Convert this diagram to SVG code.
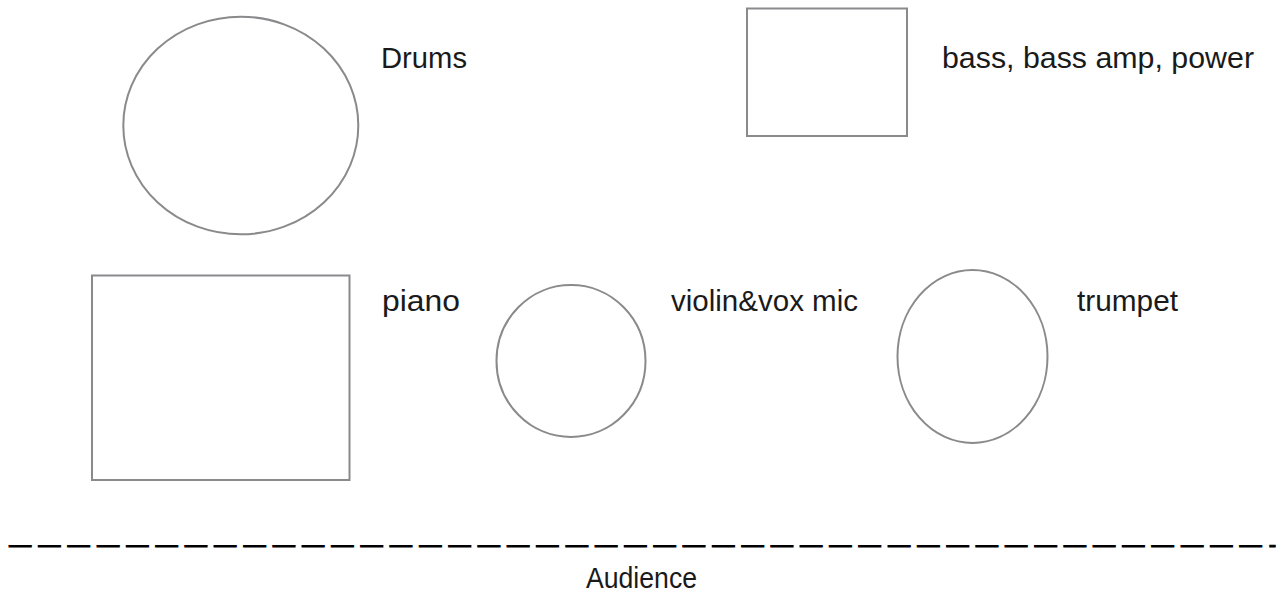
<svg xmlns="http://www.w3.org/2000/svg" width="1282" height="594" viewBox="0 0 1282 594">
  <style>
    .shape { fill: #ffffff; stroke: #8a8a8d; stroke-width: 2; }
    .label { font-family: "Liberation Sans", Arial, sans-serif; font-size: 29px; fill: #1a1a1a; }
    .rule { font-family: "Liberation Sans", Arial, sans-serif; font-size: 22.3px; fill: #000000; stroke: #000000; stroke-width: 1; letter-spacing: 7px; }
  </style>
  <rect width="1282" height="594" fill="#ffffff"/>
  <g id="drums">
    <ellipse class="shape" cx="240.8" cy="125.5" rx="117.5" ry="108.8"/>
    <text class="label" x="381" y="68" textLength="86" lengthAdjust="spacingAndGlyphs">Drums</text>
  </g>
  <g id="bass">
    <rect class="shape" x="747" y="8.5" width="160" height="127.5"/>
    <text class="label" x="942" y="68" textLength="312" lengthAdjust="spacingAndGlyphs">bass, bass amp, power</text>
  </g>
  <g id="piano">
    <rect class="shape" x="92" y="275.5" width="257.5" height="204.5"/>
    <text class="label" x="382" y="311" textLength="78" lengthAdjust="spacingAndGlyphs">piano</text>
  </g>
  <g id="violin">
    <ellipse class="shape" cx="571" cy="361" rx="74.5" ry="76"/>
    <text class="label" x="671" y="311" textLength="187" lengthAdjust="spacingAndGlyphs">violin&amp;vox mic</text>
  </g>
  <g id="trumpet">
    <ellipse class="shape" cx="972.5" cy="356.5" rx="75" ry="86.5"/>
    <text class="label" x="1077" y="311" textLength="101" lengthAdjust="spacingAndGlyphs">trumpet</text>
  </g>
  <g id="connectors"></g>
  <g id="audience">
    <text class="rule" x="9" y="551.7">———————————————————————————————————————————-</text>
    <text class="label" x="586" y="588" textLength="111" lengthAdjust="spacingAndGlyphs">Audience</text>
  </g>
</svg>
